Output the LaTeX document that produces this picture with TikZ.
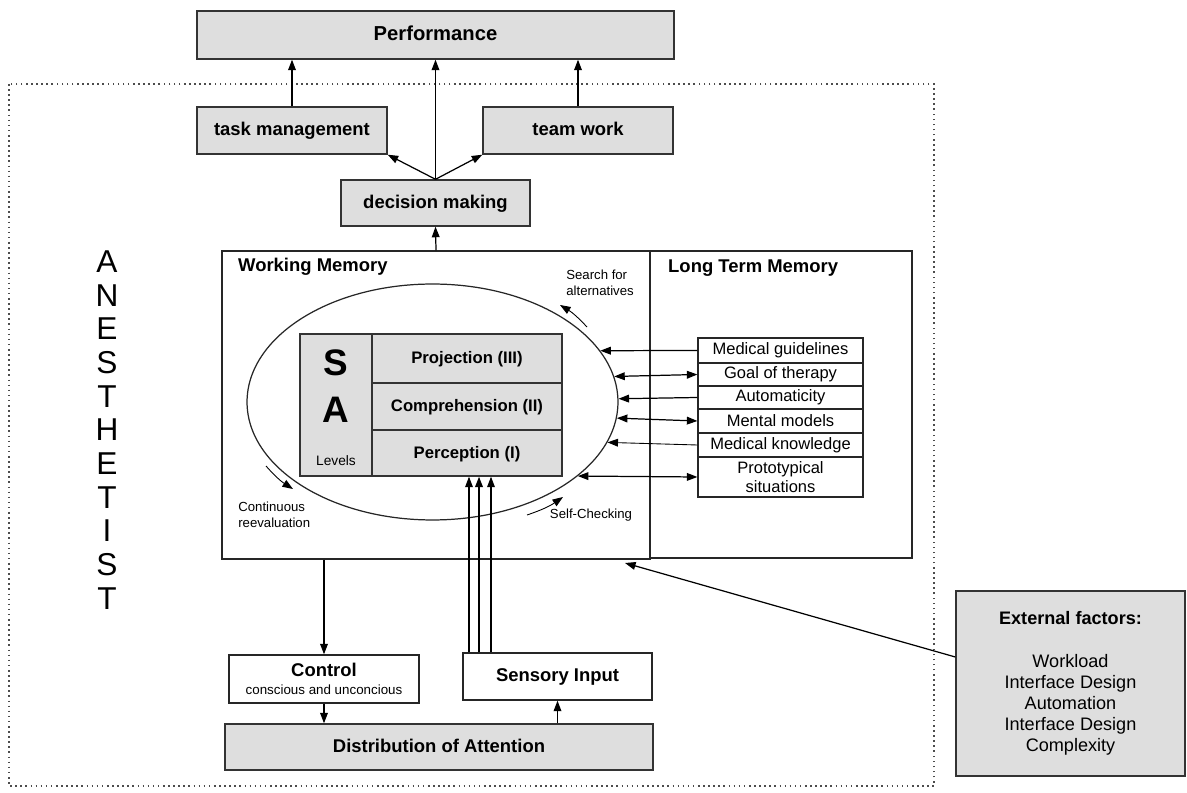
\documentclass[tikz,border=0pt]{standalone}
\usepackage{fontspec}
\setmainfont{Liberation Sans}
\usetikzlibrary{shapes.geometric,arrows.meta}

\begin{document}
\begin{tikzpicture}[x=0.02cm,y=-0.02cm]
    \tikzset{
        >={Triangle[length=6pt,width=4.4pt]},
        greybox/.style={draw=black!80, fill=black!13, line width=0.8pt, inner sep=0pt, font=\fontsize{10.5}{12}\selectfont\bfseries},
        plainbox/.style={draw=black!85, line width=0.8pt, inner sep=0pt, font=\fontsize{10.5}{12}\selectfont\bfseries},
        oneline/.style={text height=1.6ex, text depth=0.45ex},
        item/.style={draw=black!85, line width=0.7pt, inner sep=0pt, minimum width=3.3cm, font=\fontsize{9.4}{10.8}\selectfont, align=center},
        arc/.style={->, line width=0.7pt},
        twoway/.style={<->, line width=0.7pt},
        note/.style={font=\fontsize{7.5}{9}\selectfont, inner sep=0pt},
        letter/.style={font=\fontsize{18}{18}\selectfont, inner sep=0pt}
    }
    \useasboundingbox (0,0) rectangle (1187,793);

    % the anesthetist frame
    \draw[dotted, line width=0.9pt, black!70] (9,84) rectangle (934,786);
    \foreach \l [count=\i] in {A,N,E,S,T,H,E,T,I,S,T}{
        \node[letter] (l\i) at (107,{261.5+33.7*(\i-1)}) {\l};
    }

    % outcome
    \node[greybox, oneline, minimum width=9.54cm, minimum height=0.96cm, font=\fontsize{11.5}{13}\selectfont\bfseries] (perf) at (435.5,35) {Performance};
    \node[greybox, oneline, minimum width=3.8cm, minimum height=0.94cm] (task) at (292,130.5) {task management};
    \node[greybox, oneline, minimum width=3.8cm, minimum height=0.94cm] (team) at (578,130.5) {team work};
    \node[greybox, oneline, minimum width=3.78cm, minimum height=0.92cm] (dec) at (435.5,203) {decision making};

    % memories
    \node[plainbox, minimum width=8.56cm, minimum height=6.16cm] (wm) at (436,405) {};
    \node[plainbox, minimum width=5.24cm, minimum height=6.14cm] (ltm) at (781,404.5) {};
    \node[anchor=west, font=\fontsize{10.5}{12}\selectfont\bfseries] (wmtitle) at (232,267) {Working Memory};
    \node[anchor=west, font=\fontsize{10.5}{12}\selectfont\bfseries] (ltmtitle) at (662,268) {Long Term Memory};

    \node[ellipse, draw=black!85, line width=0.7pt, minimum width=7.42cm, minimum height=4.72cm, inner sep=0pt] (sa) at (432.5,402) {};

    \node[greybox, minimum width=1.44cm, minimum height=2.84cm] (lev) at (336,405) {};
    \node[greybox, oneline, minimum width=3.8cm, minimum height=0.98cm, font=\fontsize{9.5}{11}\selectfont\bfseries] (proj) at (467,358.5) {Projection (III)};
    \node[greybox, oneline, minimum width=3.8cm, minimum height=0.94cm, font=\fontsize{9.5}{11}\selectfont\bfseries] (comp) at (467,406.5) {Comprehension (II)};
    \node[greybox, oneline, minimum width=3.8cm, minimum height=0.92cm, font=\fontsize{9.5}{11}\selectfont\bfseries] (perc) at (467,453) {Perception (I)};
    \node[font=\fontsize{21}{21}\selectfont\bfseries, inner sep=0pt] (s) at (336,363) {S};
    \node[font=\fontsize{21}{21}\selectfont\bfseries, inner sep=0pt] (a) at (336,410) {A};
    \node[font=\fontsize{7.8}{9}\selectfont, inner sep=0pt] (levels) at (336,461) {Levels};

    \foreach \n/\y/\h/\t in {mg/350.5/0.5/Medical guidelines, gt/374.5/0.46/Goal of therapy, au/397.5/0.46/Automaticity, mm/421/0.48/Mental models, mk/445/0.48/Medical knowledge, ps/477/0.8/{Prototypical\\situations}}{
        \node[item, minimum height=\h cm] (\n) at (780.5,\y) {\t};
    }
    \draw[arc] (mg.west) -- (sa.17.15);
    \draw[twoway] (gt.west) -- (sa.8.67);
    \draw[arc] (au.west) -- (sa.1.39);
    \draw[twoway] (mm.west) -- (sa.-5.92);
    \draw[arc, line width=0.5pt] (mk.west) -- (sa.-13.97);
    \draw[twoway] (ps.west) -- (sa.-27.64);

    \node[note, anchor=west, align=left] (search) at (566,283) {Search for\\alternatives};
    \node[note, anchor=west, align=left] (reeval) at (238,515) {Continuous\\reevaluation};
    \node[note] (selfcheck) at (591,515) {Self-Checking};
    \draw[->, line width=0.5pt] (587,327) to[bend right=8] (560,305);
    \draw[->, line width=0.5pt] (266,466) to[bend right=8] (293,489);
    \draw[->, line width=0.5pt] (527,515) to[bend right=8] (563,497);

    % attention loop
    \node[plainbox, minimum width=3.8cm, minimum height=0.96cm, align=center] (ctrl) at (324,679) {Control\\[-2pt]{\fontsize{7.6}{9}\selectfont\mdseries conscious and unconcious}};
    \node[plainbox, oneline, minimum width=3.78cm, minimum height=0.94cm] (sens) at (557.5,676.5) {Sensory Input};
    \node[greybox, oneline, minimum width=8.56cm, minimum height=0.92cm] (dist) at (439,747) {Distribution of Attention};

    \node[greybox, minimum width=4.58cm, minimum height=3.7cm, align=center, font=\fontsize{10.3}{12}\selectfont] (ext) at (1070.5,683.5) {\textbf{External factors:}\\[12pt]Workload\\Interface Design\\Automation\\Interface Design\\Complexity};
    \coordinate (wmin) at (625,563);

    \foreach \d/\w in {0.04/0.6pt,0.24/1pt,0.48/0.6pt}{
        \draw[->, line width=\w] ([xshift=\d cm]perc.south |- sens.north) -- ([xshift=\d cm]perc.south);
    }
    \draw[arc] (wm.south -| ctrl.north) -- (ctrl.north);
    \draw[arc] (ctrl.south) -- (ctrl.south |- dist.north);
    \draw[arc] (dist.north -| sens.south) -- (sens.south);
    \draw[arc] (wm.north) -- (dec.south);
    \draw[arc] (dec.north) -- (perf.south);
    \draw[arc] (dec.north) -- (task.south east);
    \draw[arc] (dec.north) -- (team.south west);
    \draw[arc] (task.north) -- (task.north |- perf.south);
    \draw[arc] (team.north) -- (team.north |- perf.south);
    \draw[arc] ([yshift=0.53cm]ext.west) -- (wmin);
\end{tikzpicture}
\end{document}
